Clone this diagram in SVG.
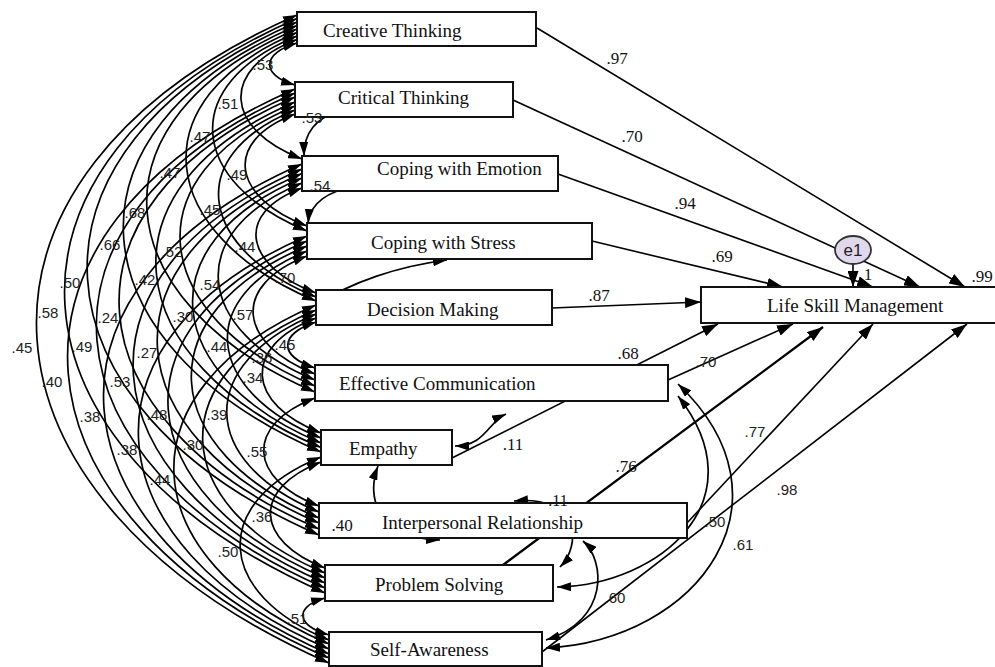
<svg xmlns="http://www.w3.org/2000/svg" width="995" height="667" viewBox="0 0 995 667">
<style>
.box{fill:#fff;stroke:#111;stroke-width:2}
.bt{font-family:"Liberation Serif","Times New Roman",serif;font-size:19px;fill:#111}
.arc{fill:none;stroke:#000;stroke-width:1.7;marker-start:url(#ah);marker-end:url(#ah)}
.one{fill:none;stroke:#000;stroke-width:1.6;marker-end:url(#ah2)}
.ls{font-family:"Liberation Sans",Arial,sans-serif;font-size:15px;fill:#222;text-anchor:middle}
.lr{font-family:"Liberation Serif","Times New Roman",serif;font-size:17px;fill:#111;text-anchor:middle}
</style>
<defs>
<marker id="ah" viewBox="0 0 14 9" refX="14" refY="4.5" markerWidth="14" markerHeight="9" markerUnits="userSpaceOnUse" orient="auto-start-reverse"><path d="M0,0 L14,4.5 L0,9 z" fill="#000"/></marker>
<marker id="ah2" viewBox="0 0 16 11" refX="16" refY="5.5" markerWidth="16" markerHeight="11" markerUnits="userSpaceOnUse" orient="auto"><path d="M0,0 L16,5.5 L0,11 z" fill="#000"/></marker>
</defs>
<rect width="995" height="667" fill="#fff"/>
<g id="connectors">
<path class="arc" d="M297,43 C262,53 260,75 295,85"/>
<path class="arc" d="M297,39.5 C219,69.5 224,129 302,159"/>
<path class="arc" d="M297,36 C178,85 188,182 307,231"/>
<path class="arc" d="M297,32.5 C137,99.5 156,234 316,301"/>
<path class="arc" d="M297,29 C85,120 103,301 315,392"/>
<path class="arc" d="M297,25.5 C50,132.5 74,345 321,452"/>
<path class="arc" d="M297,22 C3,150 25,407 319,535"/>
<path class="arc" d="M297,18.5 C-31,162.5 -3,449 325,593"/>
<path class="arc" d="M297,15 C-71,177 -39,501 329,663"/>
<path class="arc" d="M295,114 C221,142 233,198 307,226"/>
<path class="arc" d="M295,110 C180,157 201,250 316,297"/>
<path class="arc" d="M295,106 C129,176 149,316 315,386"/>
<path class="arc" d="M295,102 C93,188 119,361.5 321,447.5"/>
<path class="arc" d="M295,97 C45,205 69,421 319,529"/>
<path class="arc" d="M295,93 C11,217 41,464 325,588"/>
<path class="arc" d="M295,89 C-30,231 4,516 329,658"/>
<path class="arc" d="M302,188 C232,214 246,267 316,293"/>
<path class="arc" d="M302,183 C182,232 195,331 315,380"/>
<path class="arc" d="M302,178 C144,244 163,377 321,443"/>
<path class="arc" d="M302,173.5 C98,260.5 115,436 319,523"/>
<path class="arc" d="M302,169 C62,273 85,479 325,583"/>
<path class="arc" d="M302,164 C20,287 47,531 329,654"/>
<path class="arc" d="M307,256 C230,286 238,344 315,374"/>
<path class="arc" d="M307,251 C192,298 206,391 321,438"/>
<path class="arc" d="M307,246 C145,314 157,450 319,518"/>
<path class="arc" d="M307,241 C110,325 128,494 325,578"/>
<path class="arc" d="M307,236 C68,339 90,546 329,649"/>
<path class="arc" d="M316,322 C279,334 278,356 315,368"/>
<path class="arc" d="M316,318 C241,347 246,404 321,433"/>
<path class="arc" d="M316,314 C195,364 198,462 319,512"/>
<path class="arc" d="M316,310 C159,376 168,507 325,573"/>
<path class="arc" d="M316,305 C118,390 131,559 329,644"/>
<path class="arc" d="M315,398 C244,425 248,479 319,506"/>
<path class="arc" d="M321,462 C251,489 255,541 325,568"/>
<path class="arc" d="M321,457 C208,503 216,594 329,640"/>
<path class="arc" d="M325,598 C293,607 297,626 329,635"/>
<path class="arc" d="M398,117 C360,100 303,108 304,156"/>
<path class="arc" d="M427,191 C385,178 312,182 308,223"/>
<path class="arc" d="M317,305 C350,282 400,266 447,260"/>
<path class="arc" d="M455,446 C485,446 488,422 506,414"/>
<path class="arc" d="M378,466 C365,500 380,538 440,540"/>
<path class="arc" d="M514,501 C580,495 582,545 560,567"/>
<path class="arc" d="M583,541 C605,560 610,620 546,640"/>
<path class="arc" d="M557,587 C660,585 760,500 678,396"/>
<path class="arc" d="M546,648 C700,640 800,500 678,384"/>
<path class="one" d="M537,28 L965,287"/>
<path class="one" d="M513,100 L920,287"/>
<path class="one" d="M558,174 L873,287"/>
<path class="one" d="M592,241 L783,287"/>
<path class="one" d="M552,308 L701,302"/>
<path class="one" d="M452,458 L718,324"/>
<path class="one" d="M668,380 L793,324"/>
<path class="one" d="M503,565 L823,327" style="stroke-width:2.3"/>
<path class="one" d="M687,523 L873,324"/>
<path class="one" d="M542,652 L967,324"/>
<path class="one" d="M853,263 L853,287"/>
</g>
<g id="nodes">
<g id="creative"><rect class="box" x="297" y="12" width="239" height="34"/><text class="bt" x="323" y="37">Creative Thinking</text></g>
<g id="critical"><rect class="box" x="295" y="82" width="218" height="35"/><text class="bt" x="338" y="104">Critical Thinking</text></g>
<g id="emotion"><rect class="box" x="302" y="156" width="256" height="35"/><text class="bt" x="377" y="175">Coping with Emotion</text></g>
<g id="stress"><rect class="box" x="307" y="223" width="285" height="36"/><text class="bt" x="371" y="249">Coping with Stress</text></g>
<g id="decision"><rect class="box" x="316" y="290" width="236" height="35"/><text class="bt" x="367" y="316">Decision Making</text></g>
<g id="communication"><rect class="box" x="315" y="365" width="353" height="36"/><text class="bt" x="339" y="390">Effective Communication</text></g>
<g id="empathy"><rect class="box" x="321" y="430" width="131" height="35"/><text class="bt" x="349" y="455">Empathy</text></g>
<g id="interpersonal"><rect class="box" x="319" y="503" width="368" height="35"/><text class="bt" x="382" y="529">Interpersonal Relationship</text></g>
<g id="problem"><rect class="box" x="325" y="565" width="228" height="36"/><text class="bt" x="375" y="591">Problem Solving</text></g>
<g id="selfaware"><rect class="box" x="329" y="632" width="213" height="34"/><text class="bt" x="370" y="656">Self-Awareness</text></g>
<g id="lsm"><rect class="box" x="701" y="287" width="296" height="36"/><text class="bt" x="767" y="312">Life Skill Management</text></g>
<g id="e1"><ellipse cx="853" cy="250" rx="18" ry="14" fill="#e2d8ee" stroke="#333" stroke-width="1.8"/><text x="853" y="256" font-family="Liberation Sans,Arial,sans-serif" font-size="17" text-anchor="middle" fill="#222">e1</text></g>
</g>
<g id="labels">
<text class="ls" x="263" y="70">.53</text>
<text class="ls" x="228" y="109">.51</text>
<text class="ls" x="200" y="142">.47</text>
<text class="ls" x="170" y="178">.47</text>
<text class="ls" x="237" y="180">.49</text>
<text class="ls" x="135" y="218">.68</text>
<text class="ls" x="210" y="215">.45</text>
<text class="ls" x="110" y="250">.66</text>
<text class="ls" x="172" y="257">.52</text>
<text class="ls" x="245" y="252">.44</text>
<text class="ls" x="70" y="288">.50</text>
<text class="ls" x="145" y="285">.42</text>
<text class="ls" x="210" y="290">.54</text>
<text class="ls" x="285" y="283">.70</text>
<text class="ls" x="48" y="318">.58</text>
<text class="ls" x="108" y="323">.24</text>
<text class="ls" x="183" y="322">.30</text>
<text class="ls" x="243" y="320">.57</text>
<text class="ls" x="22" y="353">.45</text>
<text class="ls" x="82" y="352">.49</text>
<text class="ls" x="147" y="358">.27</text>
<text class="ls" x="217" y="352">.44</text>
<text class="ls" x="262" y="363">.36</text>
<text class="ls" x="285" y="350">.45</text>
<text class="ls" x="52" y="387">.40</text>
<text class="ls" x="120" y="387">.53</text>
<text class="ls" x="253" y="383">.34</text>
<text class="ls" x="90" y="422">.38</text>
<text class="ls" x="157" y="420">.48</text>
<text class="ls" x="217" y="420">.39</text>
<text class="ls" x="127" y="455">.38</text>
<text class="ls" x="193" y="450">.30</text>
<text class="ls" x="257" y="457">.55</text>
<text class="ls" x="160" y="485">.44</text>
<text class="ls" x="262" y="522">.36</text>
<text class="ls" x="228" y="557">.50</text>
<text class="ls" x="297" y="624">.51</text>
<text class="ls" x="312" y="123">.53</text>
<text class="ls" x="320" y="191">.54</text>
<text class="lr" x="513" y="450">.11</text>
<text class="lr" x="342" y="531">.40</text>
<text class="lr" x="558" y="506" style="font-size:16px">.11</text>
<text class="ls" x="615" y="603">.60</text>
<text class="ls" x="715" y="527">.50</text>
<text class="ls" x="743" y="550">.61</text>
<text class="lr" x="626" y="472">.76</text>
<text class="ls" x="755" y="437">.77</text>
<text class="ls" x="787" y="495">.98</text>
<text class="ls" x="706" y="367">.70</text>
<text class="lr" x="628" y="359">.68</text>
<text class="lr" x="599" y="301">.87</text>
<text class="lr" x="722" y="262">.69</text>
<text class="lr" x="685" y="209">.94</text>
<text class="lr" x="632" y="142">.70</text>
<text class="lr" x="617" y="64">.97</text>
<text class="lr" x="982" y="282">.99</text>
<text class="lr" x="868" y="280">1</text>
</g>
</svg>
